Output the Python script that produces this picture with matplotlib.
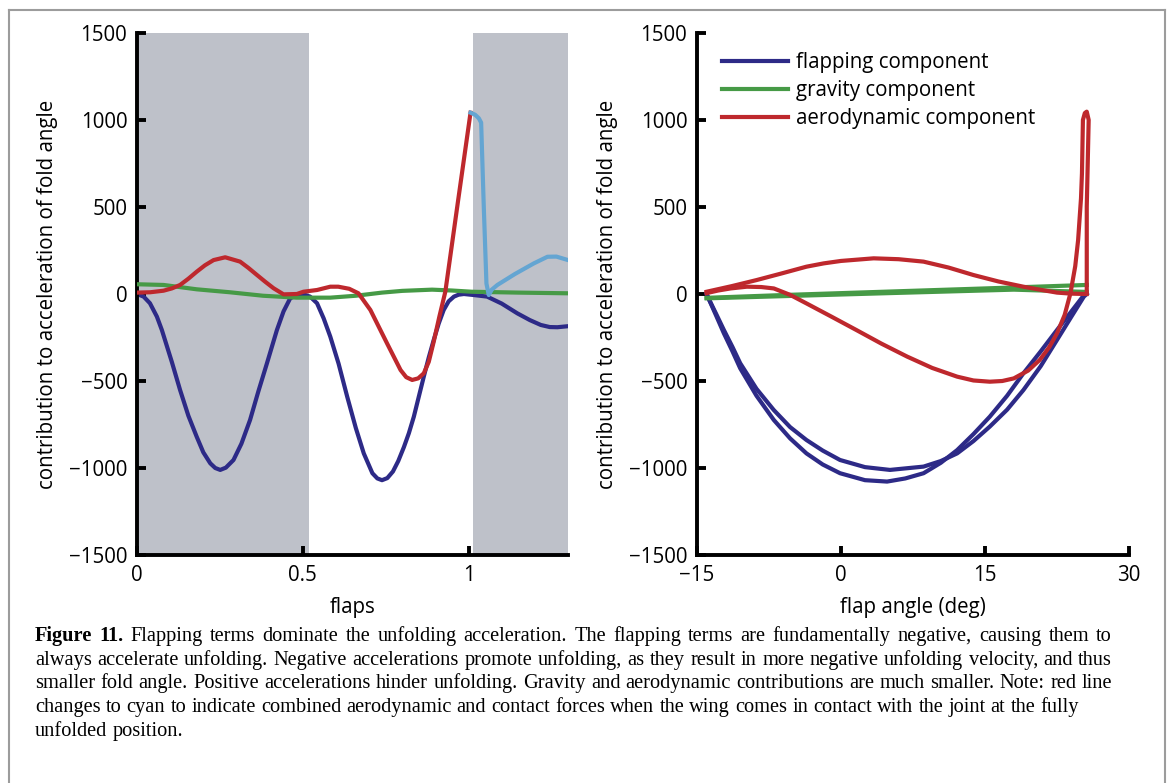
import matplotlib
matplotlib.use("Agg")
import matplotlib.pyplot as plt
from matplotlib.lines import Line2D

# ---------------- data ----------------
# left panel: contributions vs time (flaps)
t_flap = [0.000, 0.020, 0.039, 0.060, 0.075, 0.105, 0.130, 0.155, 0.180, 0.200,
          0.221, 0.236, 0.251, 0.268, 0.291, 0.315, 0.341, 0.366, 0.392, 0.422,
          0.442, 0.462, 0.482, 0.502, 0.522, 0.543, 0.563, 0.583, 0.608, 0.634,
          0.660, 0.684, 0.710, 0.725, 0.739, 0.755, 0.772, 0.788, 0.805, 0.820,
          0.835, 0.850, 0.865, 0.880, 0.895, 0.910, 0.925, 0.940, 0.956, 0.970,
          0.986, 1.016, 1.056, 1.100, 1.147, 1.185, 1.218, 1.245, 1.268, 1.300]
flap_left = [0, -15, -53, -130, -207, -390, -552, -700, -820, -910,
             -973, -1000, -1011, -998, -954, -860, -724, -560, -398, -207,
             -100, -25, -5, -2, -15, -53, -140, -245, -400, -590,
             -770, -916, -1030, -1060, -1070, -1058, -1020, -960, -880, -800,
             -705, -590, -475, -365, -264, -170, -92, -42, -15, -4,
             0, -6, -15, -55, -111, -150, -178, -190, -191, -185]

t_grav = [0.000, 0.080, 0.180, 0.280, 0.380, 0.482, 0.583, 0.660, 0.739, 0.800,
          0.890, 0.950, 1.010, 1.150, 1.300]
grav_left = [56, 52, 27, 10, -10, -21, -21, -10, 8, 18,
             25, 20, 13, 8, 4]

t_aero = [0.000, 0.040, 0.080, 0.105, 0.130, 0.155, 0.180, 0.205, 0.231, 0.266,
          0.311, 0.336, 0.362, 0.387, 0.412, 0.442, 0.482, 0.502, 0.543, 0.583,
          0.607, 0.640, 0.668, 0.704, 0.754, 0.795, 0.812, 0.830, 0.848, 0.865,
          0.880, 0.895, 0.912, 0.930, 0.968, 1.006]
aero_left = [8, 10, 19, 32, 52, 88, 128, 165, 195, 211,
             186, 150, 109, 70, 33, -2, 0, 13, 23, 42,
             42, 30, 4, -92, -283, -437, -478, -494, -485, -456,
             -390, -274, -130, 13, 530, 1042]

t_contact = [1.006, 1.020, 1.031, 1.038, 1.046, 1.054, 1.061, 1.070, 1.087, 1.140,
             1.197, 1.238, 1.265, 1.300]
contact_left = [1042, 1030, 1010, 985, 500, 60, -6, 25, 52, 115,
                176, 214, 215, 195]

shade_spans = [(0.0, 0.52), (1.013, 1.30)]

# right panel: contributions vs flap angle (deg)
ang_flap_a = [-14.0, -13.8, -13.0, -12.2, -11.3, -10.5, -8.8, -7.0, -5.3, -3.6,
              -1.9, -0.1, 2.5, 5.1, 8.6, 10.4, 12.1, 13.8, 15.5, 17.3,
              19.0, 20.8, 22.5, 24.0, 25.3, 25.6]
flap_a = [0, -25, -115, -207, -305, -398, -545, -667, -765, -839,
          -900, -954, -995, -1011, -992, -960, -916, -845, -762, -665,
          -552, -415, -264, -130, -15, 0]
ang_flap_b = [-14.0, -13.8, -13.0, -12.2, -11.3, -10.5, -8.8, -7.0, -5.3, -3.6,
              -1.9, -0.1, 2.5, 4.8, 6.7, 8.6, 10.4, 12.1, 13.8, 15.5,
              17.3, 19.0, 20.8, 22.5, 24.0, 25.4]
flap_b = [0, -25, -125, -226, -330, -427, -585, -724, -830, -916,
          -980, -1030, -1070, -1078, -1060, -1030, -970, -897, -805, -705,
          -585, -456, -330, -207, -100, 0]

ang_grav_a = [25.6, 15.0, 5.0, -5.0, -14.0]
grav_a = [52, 32, 14, -4, -22]
ang_grav_b = [-14.0, 5.0, 18.0, 25.6]
grav_b = [-25, 5, 25, 12]

ang_aero_a = [-14.0, -11.4, -8.8, -6.2, -3.6, -1.8, 0.0, 3.4, 6.0, 8.6,
              11.2, 13.8, 16.4, 19.0, 20.8, 22.5, 24.0, 25.6]
aero_a = [13, 45, 80, 118, 157, 176, 190, 205, 200, 186,
          152, 109, 72, 42, 24, 8, 2, 0]
ang_aero_b = [-14.0, -12.8, -11.5, -9.8, -8.3, -7.0, -5.3, -3.6, -1.0, 1.6,
              4.2, 6.9, 9.5, 12.1, 13.8, 15.5, 16.8, 18.0, 19.5, 20.7,
              21.7, 22.5, 23.3, 23.9, 24.4, 24.7, 25.0, 25.1, 25.2, 25.4,
              25.6, 25.8, 25.7, 25.6, 25.6, 25.6]
aero_b = [5, 20, 32, 42, 40, 32, -5, -54, -130, -207,
          -285, -360, -425, -475, -497, -504, -500, -485, -440, -379,
          -305, -226, -120, 4, 160, 310, 550, 694, 1000, 1040,
          1048, 1000, 750, 502, 250, 10]

yticks = [-1500, -1000, -500, 0, 500, 1000, 1500]
left_xticks = [0, 0.5, 1]
left_xticklabels = ["0", "0.5", "1"]
right_xticks = [-15, 0, 15, 30]
legend_labels = ["flapping component", "gravity component", "aerodynamic component"]

caption_lines = [
    "Flapping terms dominate the unfolding acceleration. The flapping terms are fundamentally negative, causing them to",
    "always accelerate unfolding. Negative accelerations promote unfolding, as they result in more negative unfolding velocity, and thus",
    "smaller fold angle. Positive accelerations hinder unfolding. Gravity and aerodynamic contributions are much smaller. Note: red line",
    "changes to cyan to indicate combined aerodynamic and contact forces when the wing comes in contact with the joint at the fully",
    "unfolded position.",
]

# ---------------- style ----------------
BLUE = "#2D2A87"
GREEN = "#469A46"
RED = "#BE282D"
CYAN = "#64A5D2"
SHADE = "#BEC1C9"
LW = 3.0
FS = 14.8

plt.rcParams["font.family"] = ["Open Sans", "DejaVu Sans"]
plt.rcParams["axes.unicode_minus"] = True

W, H = 1171, 783
fig = plt.figure(figsize=(W / 100, H / 100), dpi=100)


def px_axes(l, t, r, b):
    return fig.add_axes([l / W, 1 - b / H, (r - l) / W, (b - t) / H])


def style(ax):
    for s in ("top", "right"):
        ax.spines[s].set_visible(False)
    for s in ("left", "bottom"):
        ax.spines[s].set_linewidth(2.8)
    ax.tick_params(direction="in", length=6.5, width=2.8, labelsize=FS)
    ax.tick_params(axis="x", pad=7)
    ax.tick_params(axis="y", pad=7)
    ax.set_ylim(-1500, 1500)
    ax.set_yticks(yticks)
    ax.patch.set_alpha(0)


ax1 = px_axes(137, 33, 568, 555)
ax2 = px_axes(697, 33, 1129, 555)

# left panel
for a, b in shade_spans:
    ax1.axvspan(a, b, color=SHADE, lw=0, zorder=0)
ax1.plot(t_flap, flap_left, color=BLUE, lw=LW, zorder=2)
ax1.plot(t_grav, grav_left, color=GREEN, lw=LW, zorder=3)
ax1.plot(t_aero, aero_left, color=RED, lw=LW, zorder=4)
ax1.plot(t_contact, contact_left, color=CYAN, lw=LW, zorder=5)
ax1.set_xlim(0, 1.30)
ax1.set_xticks(left_xticks)
ax1.set_xticklabels(left_xticklabels)
style(ax1)

# right panel
ax2.plot(ang_flap_a, flap_a, color=BLUE, lw=LW, zorder=2)
ax2.plot(ang_flap_b, flap_b, color=BLUE, lw=LW, zorder=2)
ax2.plot(ang_grav_a, grav_a, color=GREEN, lw=LW, zorder=3)
ax2.plot(ang_grav_b, grav_b, color=GREEN, lw=LW, zorder=3)
ax2.plot(ang_aero_a, aero_a, color=RED, lw=LW, zorder=4)
ax2.plot(ang_aero_b, aero_b, color=RED, lw=LW, zorder=4)
ax2.set_xlim(-15, 30)
ax2.set_xticks(right_xticks)
style(ax2)

handles = [Line2D([], [], color=c, lw=LW) for c in (BLUE, GREEN, RED)]
ax2.legend(handles, legend_labels, loc="upper left", bbox_to_anchor=(0.058, 0.964),
           frameon=False, fontsize=FS, handlelength=3.2, handletextpad=0.4,
           labelspacing=0.35, borderpad=0, borderaxespad=0)

# axis labels
ylab = "contribution to acceleration of fold angle"
fig.text(48 / W, 1 - 294 / H, ylab, rotation=90, ha="center", va="center", fontsize=FS)
fig.text(607 / W, 1 - 294 / H, ylab, rotation=90, ha="center", va="center", fontsize=FS)
fig.text(352.5 / W, 1 - 607 / H, "flaps", ha="center", va="center", fontsize=FS)
fig.text(913 / W, 1 - 607 / H, "flap angle (deg)", ha="center", va="center", fontsize=FS)

# page border
bc = "#9c9c9c"
fig.add_artist(Line2D([9 / W, 9 / W], [0, 1 - 10 / H], transform=fig.transFigure, color=bc, lw=1.5))
fig.add_artist(Line2D([9 / W, 1165 / W], [1 - 10 / H, 1 - 10 / H], transform=fig.transFigure, color=bc, lw=1.5))
fig.add_artist(Line2D([1165 / W, 1165 / W], [0, 1 - 10 / H], transform=fig.transFigure, color=bc, lw=1.5))

# caption (justified)
renderer = fig.canvas.get_renderer()
CFAM = ["Liberation Serif", "DejaVu Serif"]
x_left, x_right = 35, 1112
line4_right = 1082
baselines = [641, 665, 688, 712, 736]


def word_width(w, size, weight="normal"):
    t = fig.text(0, 0, w, fontsize=size, family=CFAM, weight=weight)
    wd = t.get_window_extent(renderer).width
    t.remove()
    return wd


def line_words(i):
    words = [(w, "normal") for w in caption_lines[i].split(" ")]
    if i == 0:
        words = [("Figure", "bold"), ("11.", "bold")] + words
    return words


# size chosen so the ragged 4th line ends where it does in the reference
base = 14.0
sp0 = word_width("a b", base) - word_width("ab", base)
w4 = line_words(3)
nat4 = sum(word_width(w, base, wt) for w, wt in w4) + sp0 * (len(w4) - 1)
CFS = base * (line4_right - x_left) / nat4
space_w = word_width("a b", CFS) - word_width("ab", CFS)

for i in range(len(caption_lines)):
    words = line_words(i)
    widths = [word_width(w, CFS, wt) for w, wt in words]
    if i < 3:
        gap = (x_right - x_left - sum(widths)) / (len(words) - 1)
    else:
        gap = space_w
    x = x_left
    y = 1 - baselines[i] / H
    for (w, wt), wd in zip(words, widths):
        fig.text(x / W, y, w, fontsize=CFS, family=CFAM, weight=wt, va="baseline", ha="left")
        x += wd + gap

fig.savefig("out.png", dpi=100)
